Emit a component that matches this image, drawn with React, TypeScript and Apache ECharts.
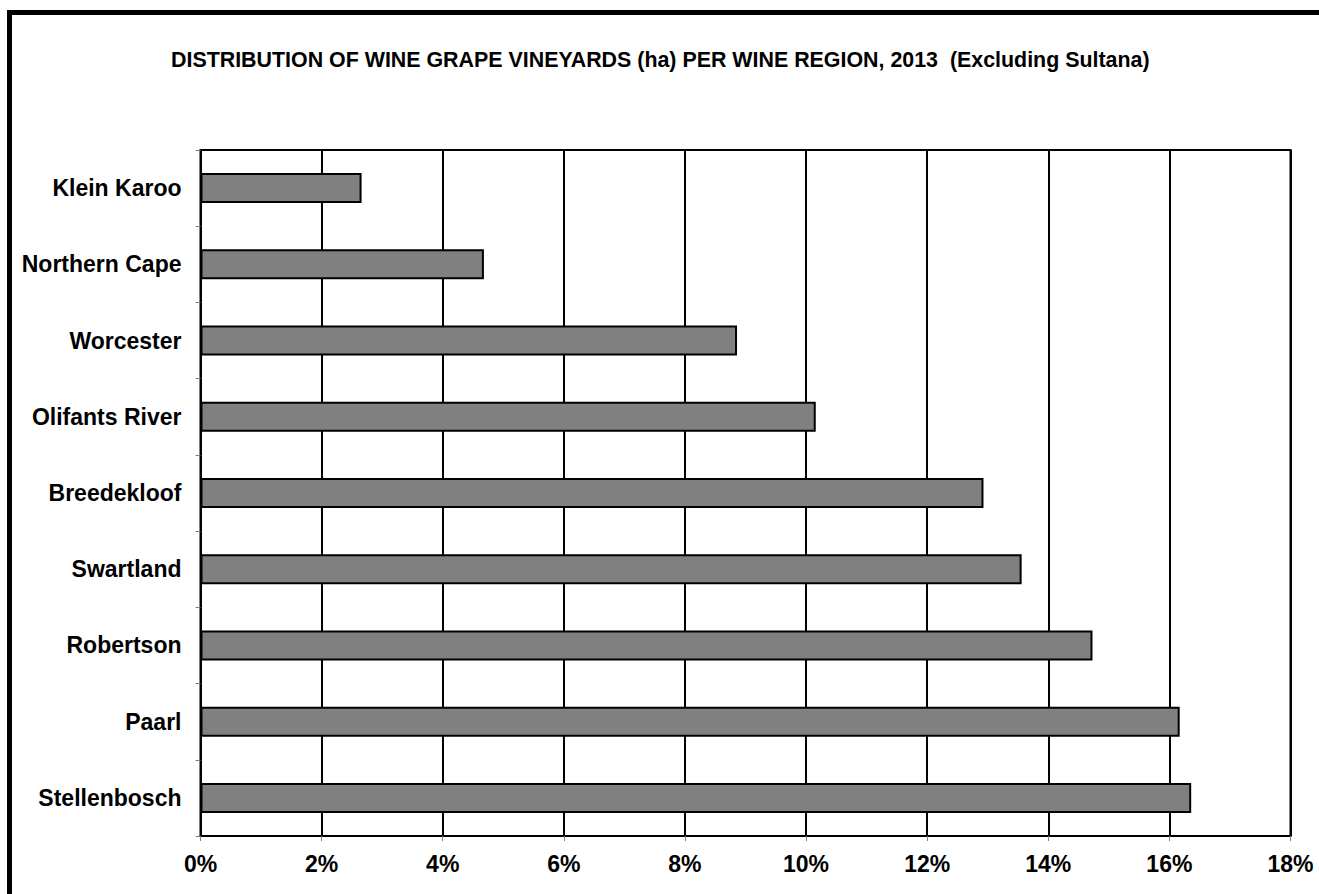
import React, { useEffect, useRef } from "react";
import * as echarts from "echarts";

const TITLE = "DISTRIBUTION OF WINE GRAPE VINEYARDS (ha) PER WINE REGION, 2013  (Excluding Sultana)";
const regions = [
  "Klein Karoo",
  "Northern Cape",
  "Worcester",
  "Olifants River",
  "Breedekloof",
  "Swartland",
  "Robertson",
  "Paarl",
  "Stellenbosch",
];
const shares = [2.66, 4.68, 8.86, 10.16, 12.93, 13.56, 14.73, 16.17, 16.36];
const axisMin = 0;
const axisMax = 18;
const axisStep = 2;

const FONT = "'Liberation Sans', Arial, sans-serif";

export default function App() {
  const ref = useRef<HTMLDivElement>(null);
  useEffect(() => {
    if (!ref.current) return;
    const chart = echarts.init(ref.current, undefined, { renderer: "svg" });
    chart.setOption({
      animation: false,
      backgroundColor: "#ffffff",
      title: {
        text: TITLE,
        left: 166,
        top: 44,
        textStyle: { fontFamily: FONT, fontSize: 21.4, fontWeight: "bold", color: "#000" },
      },
      graphic: [
        {
          type: "rect",
          shape: { x: 9.5, y: 12.5, width: 1400, height: 1000 },
          style: { fill: "none", stroke: "#000", lineWidth: 5 },
          silent: true,
        },
      ],
      grid: {
        left: 200.5,
        right: 28.5,
        top: 150,
        bottom: 58,
        show: true,
        borderColor: "#000",
        borderWidth: 2,
        containLabel: false,
        outerBoundsMode: "none",
      },
      xAxis: {
        type: "value",
        min: axisMin,
        max: axisMax,
        interval: axisStep,
        axisLine: { show: true, lineStyle: { color: "#000", width: 2 } },
        axisTick: { show: true, length: 5, lineStyle: { color: "#808080", width: 1 } },
        splitLine: { show: true, lineStyle: { color: "#000", width: 2 } },
        axisLabel: {
          formatter: "{value}%",
          margin: 16,
          fontFamily: FONT,
          fontSize: 23,
          fontWeight: "bold",
          color: "#000",
        },
      },
      yAxis: {
        type: "category",
        inverse: true,
        data: regions,
        axisLine: { show: true, lineStyle: { color: "#000", width: 2 } },
        axisTick: { show: true, length: 5, lineStyle: { color: "#808080", width: 1 } },
        splitLine: { show: false },
        axisLabel: {
          margin: 19,
          fontFamily: FONT,
          fontSize: 23,
          fontWeight: "bold",
          color: "#000",
        },
      },
      series: [
        {
          type: "bar",
          data: shares,
          barWidth: 30,
          itemStyle: { color: "#808080", borderColor: "#000", borderWidth: 2 },
        },
      ],
    });
    return () => chart.dispose();
  }, []);
  return (
    <div style={{ position: "fixed", left: 0, top: 0, width: 1319, height: 894, overflow: "hidden" }}>
      <div ref={ref} style={{ width: 1319, height: 894 }} />
    </div>
  );
}
